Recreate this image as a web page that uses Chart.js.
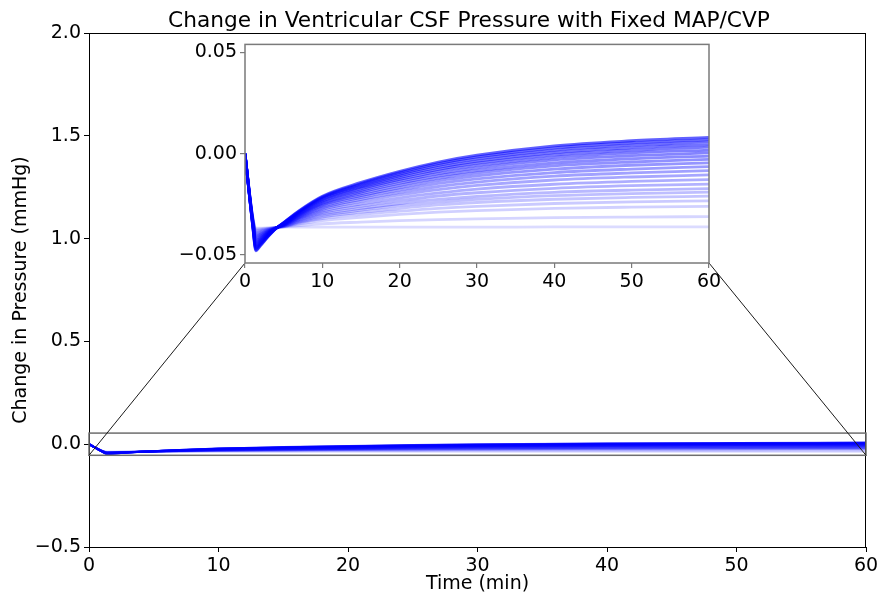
<!DOCTYPE html>
<html>
<head>
<meta charset="utf-8">
<title>Change in Ventricular CSF Pressure with Fixed MAP/CVP</title>
<script src="https://cdn.jsdelivr.net/npm/chart.js@4.4.0/dist/chart.umd.min.js"></script>
<style>
  html, body { margin: 0; padding: 0; background: #fff; }
  #wrap { position: relative; width: 893px; height: 596px; }
  #main { position: absolute; left: 0; top: 0; }
  #inset { position: absolute; left: 150px; top: 30px; }
</style>
</head>
<body>
<div id="wrap">
  <canvas id="main" width="893" height="596"></canvas>
  <canvas id="inset" width="580" height="270"></canvas>
</div>
<script>
// time axis (min)
const timeMin = [0, 1, 1.4, 2, 3, 4, 5, 7, 10, 15, 20, 25, 30, 40, 50, 60];

// change in ventricular CSF pressure (mmHg), one run per parameter value
const run1  = [0, -0.0360, -0.0480, -0.0455, -0.0410, -0.0370, -0.0340, -0.0281, -0.0210, -0.0142, -0.0087, -0.0041, -0.0007, 0.0039, 0.0064, 0.0081];
const run2  = [0, -0.0358, -0.0475, -0.0451, -0.0408, -0.0370, -0.0341, -0.0284, -0.0214, -0.0148, -0.0094, -0.0049, -0.0016, 0.0029, 0.0054, 0.0070];
const run3  = [0, -0.0355, -0.0469, -0.0447, -0.0406, -0.0369, -0.0342, -0.0286, -0.0218, -0.0154, -0.0102, -0.0058, -0.0026, 0.0018, 0.0042, 0.0058];
const run4  = [0, -0.0353, -0.0464, -0.0443, -0.0404, -0.0369, -0.0343, -0.0289, -0.0223, -0.0161, -0.0110, -0.0068, -0.0037, 0.0006, 0.0030, 0.0045];
const run5  = [0, -0.0350, -0.0459, -0.0438, -0.0402, -0.0369, -0.0344, -0.0291, -0.0227, -0.0167, -0.0118, -0.0077, -0.0047, -0.0006, 0.0017, 0.0032];
const run6  = [0, -0.0348, -0.0453, -0.0434, -0.0400, -0.0369, -0.0345, -0.0294, -0.0233, -0.0174, -0.0127, -0.0087, -0.0058, -0.0018, 0.0004, 0.0018];
const run7  = [0, -0.0346, -0.0448, -0.0430, -0.0397, -0.0368, -0.0347, -0.0298, -0.0238, -0.0182, -0.0136, -0.0098, -0.0070, -0.0031, -0.0010, 0.0004];
const run8  = [0, -0.0343, -0.0443, -0.0426, -0.0395, -0.0368, -0.0348, -0.0301, -0.0244, -0.0190, -0.0146, -0.0109, -0.0083, -0.0046, -0.0025, -0.0012];
const run9  = [0, -0.0341, -0.0437, -0.0422, -0.0393, -0.0368, -0.0349, -0.0304, -0.0250, -0.0198, -0.0156, -0.0121, -0.0095, -0.0060, -0.0041, -0.0028];
const run10 = [0, -0.0339, -0.0432, -0.0418, -0.0391, -0.0367, -0.0350, -0.0307, -0.0255, -0.0207, -0.0167, -0.0133, -0.0109, -0.0076, -0.0057, -0.0045];
const run11 = [0, -0.0336, -0.0427, -0.0414, -0.0389, -0.0367, -0.0351, -0.0311, -0.0262, -0.0216, -0.0179, -0.0147, -0.0124, -0.0093, -0.0076, -0.0064];
const run12 = [0, -0.0334, -0.0421, -0.0409, -0.0387, -0.0367, -0.0352, -0.0315, -0.0269, -0.0226, -0.0191, -0.0162, -0.0140, -0.0111, -0.0095, -0.0084];
const run13 = [0, -0.0331, -0.0416, -0.0405, -0.0385, -0.0367, -0.0353, -0.0318, -0.0276, -0.0236, -0.0204, -0.0177, -0.0157, -0.0130, -0.0115, -0.0105];
const run14 = [0, -0.0329, -0.0411, -0.0401, -0.0383, -0.0366, -0.0354, -0.0322, -0.0284, -0.0248, -0.0218, -0.0194, -0.0175, -0.0151, -0.0137, -0.0128];
const run15 = [0, -0.0327, -0.0405, -0.0397, -0.0381, -0.0366, -0.0355, -0.0326, -0.0291, -0.0259, -0.0232, -0.0209, -0.0193, -0.0171, -0.0158, -0.0150];
const run16 = [0, -0.0324, -0.0400, -0.0393, -0.0379, -0.0366, -0.0356, -0.0330, -0.0299, -0.0270, -0.0246, -0.0226, -0.0211, -0.0191, -0.0180, -0.0173];
const run17 = [0, -0.0322, -0.0395, -0.0389, -0.0376, -0.0365, -0.0358, -0.0335, -0.0306, -0.0279, -0.0257, -0.0239, -0.0225, -0.0207, -0.0197, -0.0190];
const run18 = [0, -0.0320, -0.0389, -0.0385, -0.0374, -0.0365, -0.0359, -0.0338, -0.0313, -0.0289, -0.0270, -0.0253, -0.0241, -0.0225, -0.0216, -0.0210];
const run19 = [0, -0.0317, -0.0384, -0.0380, -0.0372, -0.0365, -0.0360, -0.0342, -0.0321, -0.0300, -0.0284, -0.0270, -0.0260, -0.0246, -0.0238, -0.0233];
const run20 = [0, -0.0315, -0.0379, -0.0376, -0.0370, -0.0365, -0.0361, -0.0347, -0.0330, -0.0314, -0.0300, -0.0289, -0.0281, -0.0270, -0.0264, -0.0260];
const run21 = [0, -0.0312, -0.0373, -0.0372, -0.0368, -0.0364, -0.0362, -0.0355, -0.0346, -0.0338, -0.0331, -0.0326, -0.0322, -0.0316, -0.0313, -0.0311];
const run22 = [0, -0.0310, -0.0368, -0.0368, -0.0366, -0.0364, -0.0363, -0.0363, -0.0363, -0.0363, -0.0363, -0.0363, -0.0363, -0.0362, -0.0362, -0.0362];

const runs = [run1, run2, run3, run4, run5, run6, run7, run8, run9, run10, run11,
              run12, run13, run14, run15, run16, run17, run18, run19, run20, run21, run22];

// axis limits
const mainXRange = [0, 60];
const mainYRange = [-0.5, 2.0];
const insetYRange = [-0.054, 0.054];

const chartTitle = 'Change in Ventricular CSF Pressure with Fixed MAP/CVP';

Chart.defaults.font.family = "'DejaVu Sans', sans-serif";
Chart.defaults.color = '#000';

function makeDatasets(width) {
  return runs.map((run, i) => ({
    data: run.map((y, j) => ({ x: timeMin[j], y: y })),
    borderColor: 'rgba(0,0,255,' + (0.62 - 0.48 * i / (runs.length - 1)).toFixed(3) + ')',
    borderWidth: width,
    pointRadius: 0,
    cubicInterpolationMode: 'monotone',
    fill: false
  }));
}

const minus = s => s.replace('-', '\u2212');

// inset: white plot area + grey frame
const insetFrame = {
  id: 'insetFrame',
  beforeDraw(chart) {
    const a = chart.chartArea, ctx = chart.ctx;
    ctx.save();
    ctx.fillStyle = '#fff';
    ctx.fillRect(a.left, a.top, a.right - a.left, a.bottom - a.top);
    ctx.restore();
  },
  afterDraw(chart) {
    const a = chart.chartArea, ctx = chart.ctx;
    ctx.save();
    ctx.strokeStyle = '#7a7a7a';
    ctx.lineWidth = 1.5;
    ctx.strokeRect(a.left, a.top, a.right - a.left, a.bottom - a.top);
    ctx.restore();
  }
};

const insetChart = new Chart(document.getElementById('inset'), {
  type: 'line',
  data: { datasets: makeDatasets(2.8) },
  options: {
    responsive: false,
    animation: false,
    devicePixelRatio: 1,
    layout: { padding: { top: 12, right: 21, left: 0, bottom: 0 } },
    plugins: { legend: { display: false }, tooltip: { enabled: false } },
    scales: {
      x: {
        type: 'linear', min: mainXRange[0], max: mainXRange[1],
        ticks: { stepSize: 10, font: { size: 19 }, color: '#000', maxRotation: 0 },
        grid: { drawOnChartArea: false, tickLength: 5, color: '#7a7a7a', lineWidth: 1.2 },
        border: { display: false },
        afterFit: s => { s.height = 37; }
      },
      y: {
        type: 'linear', min: insetYRange[0], max: insetYRange[1],
        ticks: { stepSize: 0.05, includeBounds: false, font: { size: 19 }, color: '#000',
                 callback: v => minus(v.toFixed(2)) },
        grid: { drawOnChartArea: false, tickLength: 5, color: '#7a7a7a', lineWidth: 1.2 },
        border: { display: false },
        afterFit: s => { s.width = 95; }
      }
    }
  },
  plugins: [insetFrame]
});

// main: title, frame, zoom box and connector lines to the inset
const mainFrame = {
  id: 'mainFrame',
  afterDatasetsDraw(chart) {
    const a = chart.chartArea, ctx = chart.ctx;
    const xs = chart.scales.x, ys = chart.scales.y;
    ctx.save();
    ctx.strokeStyle = '#000';
    ctx.lineWidth = 1;
    ctx.strokeRect(a.left + 0.5, a.top + 0.5, a.right - a.left - 1, a.bottom - a.top);

    const bx0 = xs.getPixelForValue(mainXRange[0]), bx1 = xs.getPixelForValue(mainXRange[1]);
    const by0 = ys.getPixelForValue(insetYRange[0]), by1 = ys.getPixelForValue(insetYRange[1]);
    ctx.strokeStyle = '#6e6e6e';
    ctx.lineWidth = 1.5;
    ctx.strokeRect(bx0, by1, bx1 - bx0, by0 - by1);

    const ic = insetChart.canvas, ia = insetChart.chartArea;
    const il = ic.offsetLeft + ia.left, ir = ic.offsetLeft + ia.right, ib = ic.offsetTop + ia.bottom;
    ctx.strokeStyle = '#1a1a1a';
    ctx.lineWidth = 1;
    ctx.beginPath();
    ctx.moveTo(il, ib); ctx.lineTo(bx0, by0);
    ctx.moveTo(ir, ib); ctx.lineTo(bx1, by0);
    ctx.stroke();

    ctx.fillStyle = '#000';
    ctx.font = "21.7px 'DejaVu Sans', sans-serif";
    ctx.textAlign = 'center';
    ctx.textBaseline = 'alphabetic';
    ctx.fillText(chartTitle, 469, 27);
    ctx.restore();
  }
};

new Chart(document.getElementById('main'), {
  type: 'line',
  data: { datasets: makeDatasets(2) },
  options: {
    responsive: false,
    animation: false,
    devicePixelRatio: 1,
    layout: { padding: { top: 33, right: 27, left: 0, bottom: 0 } },
    plugins: {
      legend: { display: false },
      tooltip: { enabled: false },
      title: { display: false }
    },
    scales: {
      x: {
        type: 'linear', min: mainXRange[0], max: mainXRange[1],
        ticks: { stepSize: 10, font: { size: 19 }, color: '#000', maxRotation: 0 },
        grid: { drawOnChartArea: false, tickLength: 5, color: '#000' },
        border: { display: false },
        title: { display: true, text: 'Time (min)', font: { size: 19 }, color: '#000', padding: { top: 0, bottom: 1 } },
        afterFit: s => { s.height = 49; }
      },
      y: {
        type: 'linear', min: mainYRange[0], max: mainYRange[1],
        ticks: { stepSize: 0.5, font: { size: 19 }, color: '#000', callback: v => minus(v.toFixed(1)) },
        grid: { drawOnChartArea: false, tickLength: 5, color: '#000' },
        border: { display: false },
        title: { display: true, text: 'Change in Pressure (mmHg)', font: { size: 19 }, color: '#000', padding: { top: 10, bottom: 0 } },
        afterFit: s => { s.width = 89; }
      }
    }
  },
  plugins: [mainFrame]
});
</script>
</body>
</html>
